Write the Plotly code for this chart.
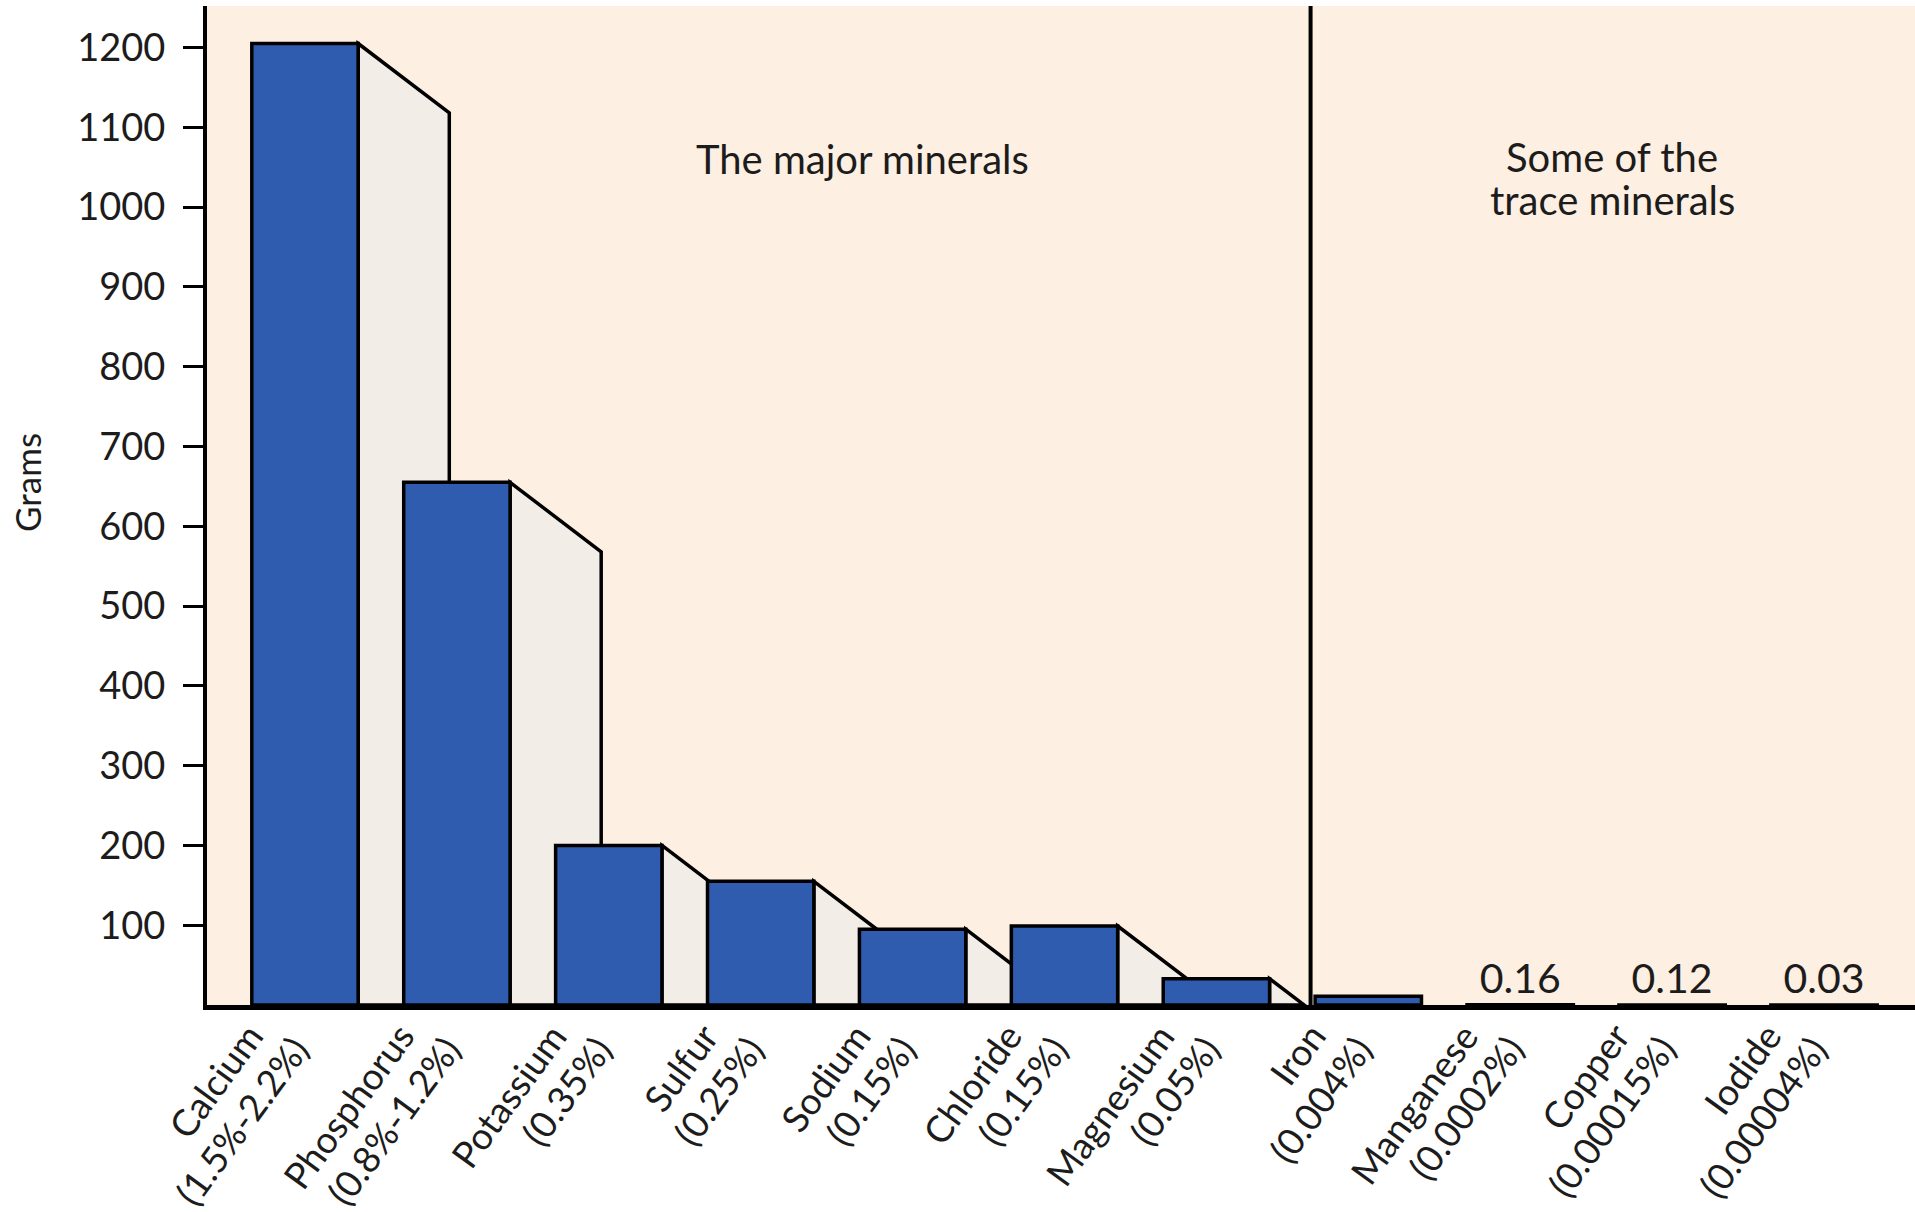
import plotly.graph_objects as go

# Minerals in the adult human body, grams (share of body weight in brackets)
minerals = ["Calcium", "Phosphorus", "Potassium", "Sulfur", "Sodium", "Chloride",
            "Magnesium", "Iron", "Manganese", "Copper", "Iodide"]
body_share = ["(1.5%-2.2%)", "(0.8%-1.2%)", "(0.35%)", "(0.25%)", "(0.15%)", "(0.15%)",
              "(0.05%)", "(0.004%)", "(0.0002%)", "(0.00015%)", "(0.00004%)"]
grams = [1205, 655, 200, 155, 95, 99, 33, 11, 0.16, 0.12, 0.03]
groups = ["major"] * 7 + ["trace"] * 4
y_ticks = [100, 200, 300, 400, 500, 600, 700, 800, 900, 1000, 1100, 1200]

FONT = "Lato, 'Open Sans', sans-serif"
TEXT = "#1c1c1c"
BAR_BLUE = "#2f5cae"
SIDE_FACE = "#f3ede7"
PANEL = "#fdefe1"
BAR_WIDTH = 0.70
LABEL_ANGLE = -54

x_pos = list(range(len(minerals)))
value_text = [f"{v:g}" if v < 1 else "" for v in grams]

fig = go.Figure()

fig.add_trace(go.Bar(
    x=x_pos, y=grams, width=BAR_WIDTH,
    marker=dict(color=BAR_BLUE, line=dict(color="black", width=3.5)),
    text=value_text, textposition="outside", cliponaxis=False,
    textfont=dict(family=FONT, size=41, color=TEXT),
    hoverinfo="skip", showlegend=False,
))

# Oblique side faces behind the major-mineral bars (pseudo 3-D depth)
depth = 0.6          # category units
drop_per_unit = 145  # grams per category unit along the slanted top edge
shapes = []
for xi, v, g in zip(x_pos, grams, groups):
    if g != "major":
        continue
    x0 = xi + BAR_WIDTH / 2
    d = min(depth, v / drop_per_unit)
    x1 = x0 + d
    y1 = max(v - d * drop_per_unit, 0)
    shapes.append(dict(
        type="path", xref="x", yref="y", layer="below",
        path=f"M {x0},{v} L {x1},{y1} L {x1},0 L {x0},0 Z",
        fillcolor=SIDE_FACE, line=dict(color="black", width=3.5),
    ))

# Divider between major and trace minerals
shapes.append(dict(type="line", xref="x", yref="paper", x0=6.62, x1=6.62, y0=0, y1=1,
                   line=dict(color="black", width=4), layer="above"))

panel_font = dict(family=FONT, size=40, color=TEXT)
annotations = [
    dict(text="The major minerals", xref="paper", yref="paper", x=0.3835, y=0.847,
         xanchor="center", yanchor="middle", showarrow=False, font=panel_font),
    dict(text="Some of the", xref="paper", yref="paper", x=0.8226, y=0.849,
         xanchor="center", yanchor="middle", showarrow=False, font=panel_font),
    dict(text="trace minerals", xref="paper", yref="paper", x=0.8226, y=0.806,
         xanchor="center", yanchor="middle", showarrow=False, font=panel_font),
    dict(text="Grams", xref="paper", yref="paper", x=-0.1054, y=0.5235, textangle=-90,
         xanchor="center", yanchor="middle", showarrow=False,
         font=dict(family=FONT, size=35, color=TEXT)),
]

# Slanted two-line category labels under the bars; the second line sits one
# line lower and runs slightly further along the slant than the first.
label_font = dict(family=FONT, size=37, color=TEXT)
for xi, m, s in zip(x_pos, minerals, body_share):
    common = dict(xref="x", yref="paper", x=xi - 0.205, y=-0.007,
                  xanchor="right", yanchor="top", textangle=LABEL_ANGLE,
                  showarrow=False, font=label_font)
    annotations.append(dict(text=m, **common))
    annotations.append(dict(text=s, xshift=46, yshift=-13, **common))

fig.update_layout(
    width=1915, height=1212,
    margin=dict(l=207, r=0, t=6, b=207),
    paper_bgcolor="white", plot_bgcolor=PANEL,
    font=dict(family=FONT, color=TEXT),
    shapes=shapes, annotations=annotations,
    bargap=0.3,
)
fig.update_xaxes(
    range=[-0.645, 10.599], tickmode="array", tickvals=x_pos, showticklabels=False,
    ticks="", showgrid=False, zeroline=False,
    showline=True, linecolor="black", linewidth=5, automargin=False,
)
fig.update_yaxes(
    range=[0, 1252], tickmode="array", tickvals=y_ticks,
    ticks="outside", ticklen=20, tickwidth=3, tickcolor="black", ticklabelstandoff=10,
    showgrid=False, zeroline=False,
    showline=True, linecolor="black", linewidth=4,
    tickfont=dict(family=FONT, size=38, color=TEXT), automargin=False,
)

fig.write_html("out.html")
